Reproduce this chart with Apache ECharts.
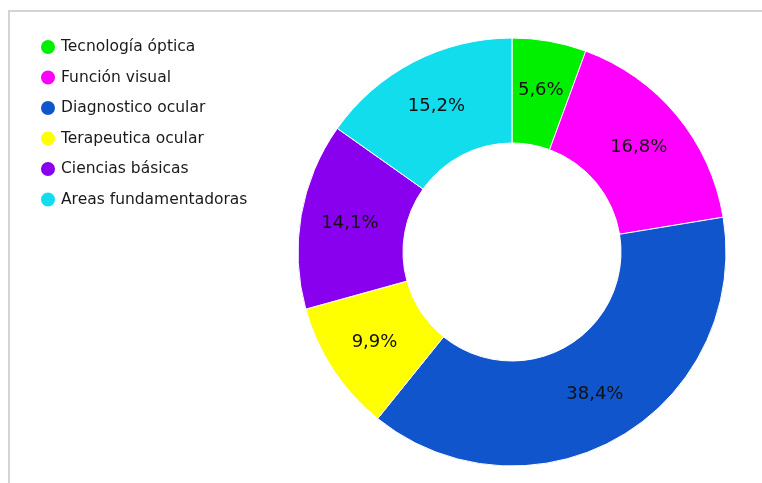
<!DOCTYPE html>
<html>
<head>
<meta charset="utf-8">
<script src="https://cdn.jsdelivr.net/npm/echarts@6/dist/echarts.min.js"></script>
<style>
  html, body { margin: 0; padding: 0; background: #fff; }
  #frame { position: absolute; left: 8px; top: 10px; width: 760px; height: 480px;
           border-left: 2px solid #d4d4d4; border-top: 2px solid #d4d4d4; }
  #chart { position: absolute; left: 0; top: 0; width: 762px; height: 483px; }
</style>
</head>
<body>
<div id="frame"></div>
<div id="chart"></div>
<script>
// Distribution of curriculum areas (%)
const categories = ['Tecnología óptica', 'Función visual', 'Diagnostico ocular', 'Terapeutica ocular', 'Ciencias básicas', 'Areas fundamentadoras'];
const shares = [5.6, 16.8, 38.4, 9.9, 14.1, 15.2];
const colors = ['#00f000', '#ff00ff', '#1155cc', '#ffff00', '#8800ee', '#11dded'];

const chart = echarts.init(document.getElementById('chart'), null, { renderer: 'canvas' });
const font = 'DejaVu Sans, Verdana, sans-serif';

chart.setOption({
  animation: false,
  color: colors,
  legend: {
    orient: 'vertical',
    left: 34,
    top: 33,
    itemGap: 12.5,
    icon: 'circle',
    itemWidth: 16,
    itemHeight: 16,
    textStyle: { fontFamily: font, fontSize: 15.5, color: '#1a1a1a' },
    data: categories
  },
  series: [{
    type: 'pie',
    center: [512, 252],
    radius: [109, 214],
    startAngle: 90,
    clockwise: true,
    avoidLabelOverlap: false,
    itemStyle: { borderColor: '#fff', borderWidth: 1 },
    label: {
      show: true,
      position: 'inside',
      fontFamily: font,
      fontSize: 18,
      color: '#111',
      formatter: p => p.value.toFixed(1).replace('.', ',') + '%'
    },
    labelLine: { show: false },
    emphasis: { disabled: true },
    data: categories.map((name, i) => ({ name, value: shares[i] }))
  }]
});
</script>
</body>
</html>
